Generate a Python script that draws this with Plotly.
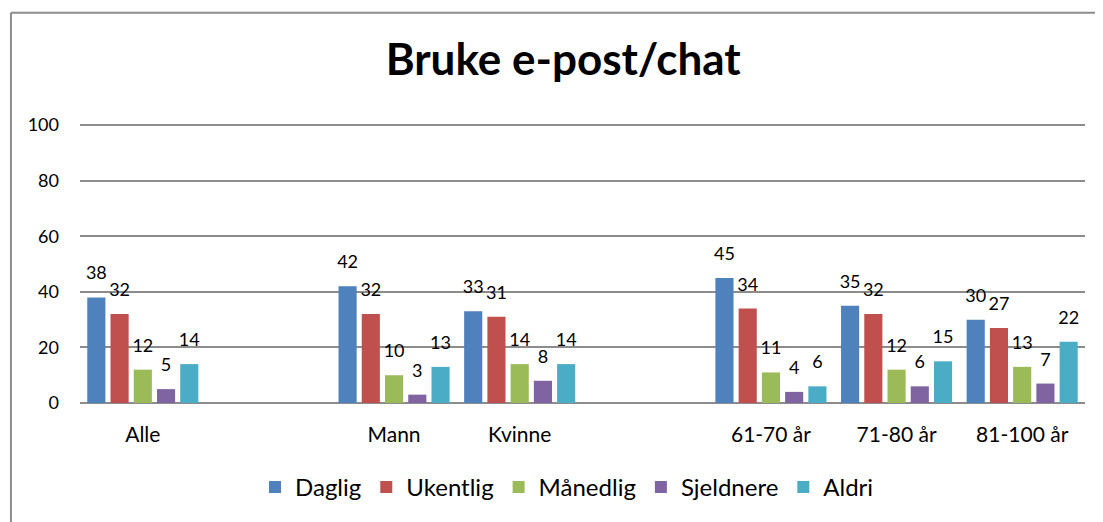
import plotly.graph_objects as go

categories = ["Alle", "", "Mann", "Kvinne", "", "61-70 år", "71-80 år", "81-100 år"]
series_names = ["Daglig", "Ukentlig", "Månedlig", "Sjeldnere", "Aldri"]
daglig = [38, None, 42, 33, None, 45, 35, 30]
ukentlig = [32, None, 32, 31, None, 34, 32, 27]
manedlig = [12, None, 10, 14, None, 11, 12, 13]
sjeldnere = [5, None, 3, 8, None, 4, 6, 7]
aldri = [14, None, 13, 14, None, 6, 15, 22]
colors = ["#4F81BD", "#C0504D", "#9BBB59", "#8064A2", "#4BACC6"]
y_ticks = [0, 20, 40, 60, 80, 100]

FONT = "Lato, 'Open Sans', sans-serif"
xs = list(range(len(categories)))

# The page body has an 8px default margin; the figure is sized to fit the 1103x522 window.
fig = go.Figure()
for name, vals, col in zip(series_names, [daglig, ukentlig, manedlig, sjeldnere, aldri], colors):
    fig.add_trace(go.Bar(
        x=xs, y=vals, name=name, marker=dict(color=col, line=dict(width=0)),
        text=[("" if v is None else f"<span style='font-size:18px'>{v}</span><br> ") for v in vals],
        textposition="outside", cliponaxis=False, constraintext="none",
        textfont=dict(family=FONT, size=10, color="#000000"),
    ))

fig.update_layout(
    width=1095, height=514,
    paper_bgcolor="white", plot_bgcolor="white",
    margin=dict(l=72, r=18, t=116, b=117),
    barmode="group", bargap=0.075, bargroupgap=0.22,
    title=dict(text="<b>Bruke e-post/chat</b>", x=0.507, xanchor="center",
               y=0.9, yanchor="middle", font=dict(family=FONT, size=44, color="#000000")),
    showlegend=True,
    legend=dict(orientation="h", x=0.4846, xanchor="center", y=-0.3025, yanchor="middle",
                font=dict(family=FONT, size=24, color="#000000"),
                itemwidth=30, tracegroupgap=0, traceorder="normal"),
    font=dict(family=FONT, color="#000000"),
)
fig.update_xaxes(
    tickmode="array", tickvals=xs, ticktext=categories, range=[-0.5, len(categories) - 0.5],
    showgrid=False, showline=False, zeroline=False, ticks="", ticklabelstandoff=17,
    tickfont=dict(family=FONT, size=21, color="#000000"),
)
fig.update_yaxes(
    range=[0, 100.4], tickmode="array", tickvals=y_ticks,
    showgrid=True, gridcolor="#8C8C8C", gridwidth=1.5,
    zeroline=True, zerolinecolor="#8C8C8C", zerolinewidth=1.5,
    showline=False, ticks="", ticklabelstandoff=20,
    tickfont=dict(family=FONT, size=18, color="#000000"),
)
# outer chart frame (top and left edges visible)
fig.add_shape(type="line", xref="paper", yref="paper", x0=-0.0687, x1=1.03, y0=1.3986, y1=1.3986,
              line=dict(color="#8C8C8C", width=2))
fig.add_shape(type="line", xref="paper", yref="paper", x0=-0.0687, x1=-0.0687, y0=1.3986, y1=-0.45,
              line=dict(color="#8C8C8C", width=2))

fig.write_html("out.html")
